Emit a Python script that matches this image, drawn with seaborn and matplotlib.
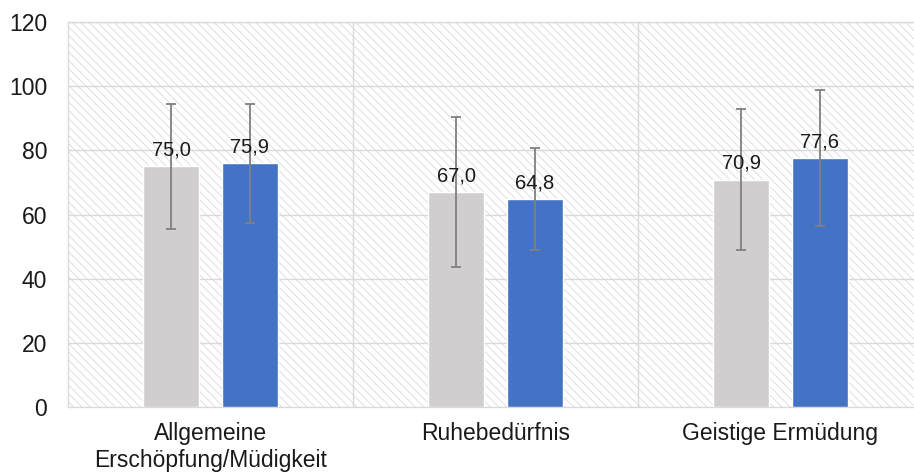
import seaborn as sns
import matplotlib.pyplot as plt
import pandas as pd
from matplotlib.patches import Rectangle

categories = ["Allgemeine\nErschöpfung/Müdigkeit", "Ruhebedürfnis", "Geistige Ermüdung"]
groups = ["A", "B"]
values_a = [75.0, 67.0, 70.9]
values_b = [75.9, 64.8, 77.6]
err_a = [19.5, 23.5, 22.1]
err_b = [18.5, 16.0, 21.3]

df = pd.DataFrame({
    "cat": categories * 2,
    "grp": [groups[0]] * 3 + [groups[1]] * 3,
    "val": values_a + values_b,
})

sns.set_style("white")
plt.rcParams["font.family"] = ["Liberation Sans", "DejaVu Sans"]
plt.rcParams["hatch.linewidth"] = 0.6

fig = plt.figure(figsize=(9.14, 4.74), dpi=100)
# plot area runs past the right edge of the picture (cropped like the original)
ax = fig.add_axes([68 / 914, 1 - 407 / 474, 855 / 914, 385 / 474])

# hatched background
ax.add_patch(Rectangle((0, 0), 1, 1, transform=ax.transAxes, facecolor="white",
                       edgecolor="#dadada", hatch="\\\\\\\\", linewidth=0, zorder=0))

sns.barplot(data=df, x="cat", y="val", hue="grp", palette=["#d0cece", "#4472c4"],
            saturation=1, width=0.55, gap=0.29, errorbar=None, legend=False,
            ax=ax, zorder=3)

# error bars and value labels
for cont, vals, errs in zip(ax.containers, [values_a, values_b], [err_a, err_b]):
    for p, v, e in zip(cont.patches, vals, errs):
        xc = p.get_x() + p.get_width() / 2
        ax.errorbar(xc, v, yerr=e, fmt="none", ecolor="#808080", elinewidth=1.3,
                    capsize=3.5, capthick=1.3, zorder=5)
        ax.annotate(f"{v:.1f}".replace(".", ","), (xc, v), xytext=(0, 5),
                    textcoords="offset points", ha="center", va="bottom",
                    fontsize=14.5, color="#1a1a1a", zorder=6)

ax.set_ylim(0, 120)
ax.set_xlim(-0.5, 2.5)
ax.set_yticks(range(0, 121, 20))
for y in range(20, 121, 20):
    ax.axhline(y, color="#d9d9d9", lw=1, zorder=1)
for x in [0.5, 1.5]:
    ax.axvline(x, color="#d9d9d9", lw=1, zorder=1)
for s in ax.spines.values():
    s.set_color("#d9d9d9")
    s.set_linewidth(1)
ax.set_xlabel("")
ax.set_ylabel("")
ax.tick_params(axis="both", length=0, labelsize=16.5, colors="#1a1a1a")
ax.tick_params(axis="x", pad=11)
ax.tick_params(axis="y", pad=15)

fig.savefig("out.png", dpi=100)
